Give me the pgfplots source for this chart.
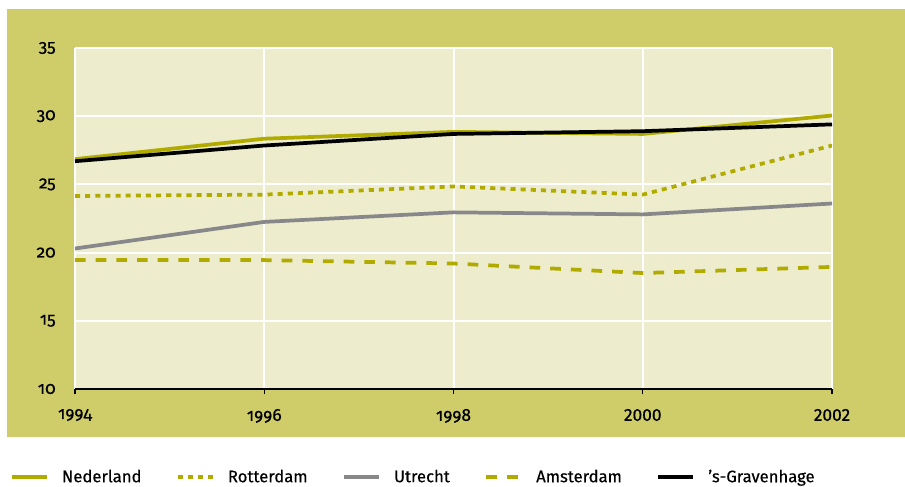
\documentclass[border=0pt]{standalone}
\usepackage{fontspec}
\setmainfont{Fira Sans}[FakeBold=0.4]
\newfontfamily\osf{Fira Sans}[Numbers=OldStyle, FakeBold=0.6]
\newfontfamily\lnf{Fira Sans}[FakeBold=0.6]
\usepackage{pgfplots}
\pgfplotsset{compat=1.18}
\definecolor{panel}{HTML}{CFCC6A}
\definecolor{plotbg}{HTML}{EDEDCD}
\definecolor{olive}{HTML}{B1AB00}
\definecolor{ugray}{HTML}{88888A}
\begin{document}
\begin{tikzpicture}
\begin{scope}[x=0.75pt,y=0.75pt]
\useasboundingbox (-75,-97) rectangle (830,389);
\fill[panel] (-68,-48) rectangle (830,380);
\end{scope}
\begin{axis}[
  at={(0,0)}, anchor=south west,
  scale only axis, width=567.75pt, height=255.75pt,
  xmin=1994, xmax=2002, ymin=10, ymax=35,
  xtick={1994,1996,1998,2000,2002},
  xticklabels={{\osf 1994},{\osf 1996},{\osf 1998},{\lnf 2000},{\lnf 2002}},
  ytick={10,15,20,25,30,35},
  yticklabels={{\osf 10},{\osf 15},{\osf 20},{\osf 25},{\osf 30},{\osf 35}},
  axis background/.style={fill=plotbg},
  grid=major,
  major grid style={white, line width=1.5pt},
  axis x line*=bottom, axis y line*=left,
  x axis line style={black, line width=0.8pt, -},
  y axis line style={draw=none},
  ytick style={draw=none},
  xtick style={black, line width=0.8pt},
  tick align=outside,
  major tick length=4pt,
  ticklabel style={font=\fontsize{13}{15}\selectfont},
  yticklabel style={xshift=-7pt},
  xticklabel style={yshift=-7.5pt},
  legend columns=5,
  legend cell align=left,
  legend style={at={(-0.0859,-0.258)}, anchor=west, draw=none, fill=none, inner sep=0pt,
    font=\fontsize{12.5}{14}\selectfont,
    /tikz/every odd column/.append style={column sep=8pt},
    /tikz/every even column/.append style={column sep=24pt}},
  legend image code/.code={\draw[#1] (0pt,0pt) -- (26pt,0pt);},
]
\addplot[olive, line width=2.8pt] coordinates {(1994,26.85) (1996,28.35) (1998,28.85) (2000,28.7) (2002,30.05)};
\addlegendentry{Nederland}
\addplot[olive, line width=2.8pt, dash pattern=on 3.8pt off 3.8pt] coordinates {(1994,24.15) (1996,24.25) (1998,24.85) (2000,24.25) (2002,27.85)};
\addlegendentry{Rotterdam}
\addplot[ugray, line width=2.8pt] coordinates {(1994,20.3) (1996,22.25) (1998,22.95) (2000,22.8) (2002,23.6)};
\addlegendentry{Utrecht}
\addplot[olive, line width=2.8pt, dash pattern=on 8pt off 7.5pt] coordinates {(1994,19.45) (1996,19.45) (1998,19.2) (2000,18.5) (2002,18.95)};
\addlegendentry{Amsterdam}
\addplot[black, line width=2.8pt] coordinates {(1994,26.7) (1996,27.85) (1998,28.7) (2000,28.9) (2002,29.4)};
\addlegendentry{’s-Gravenhage}
\end{axis}
\end{tikzpicture}
\end{document}
